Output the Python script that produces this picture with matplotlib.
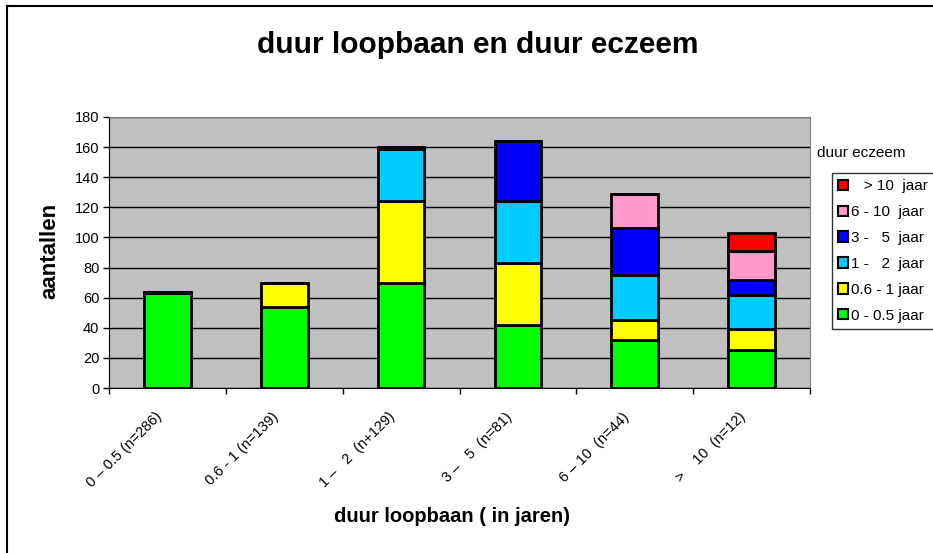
import matplotlib

matplotlib.use("Agg")
import matplotlib.pyplot as plt
import matplotlib.transforms as mtransforms
import numpy as np
from matplotlib.lines import Line2D
from matplotlib.patches import Patch

plt.rcParams["font.family"] = ["Liberation Sans", "DejaVu Sans"]

categories = [
    "0 \u2013 0.5 (n=286)",
    "0.6 - 1 (n=139)",
    "1 \u2013   2  (n+129)",
    "3 \u2013   5  (n=81)",
    "6 \u2013 10  (n=44)",
    ">    10  (n=12)",
]
series_names = ["0 - 0.5 jaar", "0.6 - 1 jaar", "1 -   2  jaar", "3 -   5  jaar", "6 - 10  jaar", "   > 10  jaar"]
green = [63, 54, 70, 42, 32, 25]
yellow = [1, 16, 54, 41, 13, 14]
cyan = [0, 0, 35, 41, 30, 23]
blue = [0, 0, 1, 40, 31, 10]
pink = [0, 0, 0, 0, 23, 19]
red = [0, 0, 0, 0, 0, 12]
colors = ["#00FF00", "#FFFF00", "#00CCFF", "#0000FF", "#FF99CC", "#FF0000"]

W, H = 933, 553
fig = plt.figure(figsize=(W / 100, H / 100), dpi=100)
ax = fig.add_axes([109 / W, 1 - 388 / H, 701 / W, 271 / H])
ax.set_facecolor("#C0C0C0")

x = np.arange(len(categories))
bottom = np.zeros(len(categories))
for vals, col in zip([green, yellow, cyan, blue, pink, red], colors):
    vals = np.array(vals, dtype=float)
    ax.bar(x, vals, width=0.4, bottom=bottom, color=col, edgecolor="black",
           linewidth=2, zorder=3)
    bottom += vals

ax.set_xlim(-0.5, len(categories) - 0.5)
ax.set_ylim(0, 180)
ax.set_yticks(range(0, 181, 20))
ax.yaxis.grid(True, color="black", linewidth=1, zorder=1)
ax.set_axisbelow(True)
ax.tick_params(axis="y", labelsize=10.5, length=4, direction="out", width=1, pad=3)

ax.set_xticks(np.arange(-0.5, len(categories), 1))
ax.set_xticklabels([])
ax.set_xticks(x, minor=True)
ax.set_xticklabels(categories, minor=True, rotation=45, ha="right",
                   rotation_mode="anchor", fontsize=10.5)
ax.tick_params(axis="x", which="major", length=4, width=1)
ax.tick_params(axis="x", which="minor", length=0, pad=12)
shift = mtransforms.ScaledTranslation(-0.13, -0.05, fig.dpi_scale_trans)
for lbl in ax.get_xticklabels(minor=True):
    lbl.set_transform(lbl.get_transform() + shift)

for side in ["top", "right"]:
    ax.spines[side].set_color("#808080")
for side in ["left", "bottom"]:
    ax.spines[side].set_color("black")

fig.text(50 / W, 1 - 251 / H, "aantallen", rotation=90, ha="center", va="center",
         fontsize=16, fontweight="bold")
fig.text(452 / W, 1 - 516 / H, "duur loopbaan ( in jaren)", ha="center", va="center",
         fontsize=14.5, fontweight="bold")
fig.text(478 / W, 1 - 45 / H, "duur loopbaan en duur eczeem", ha="center", va="center",
         fontsize=21.5, fontweight="bold")

handles = [Patch(facecolor=c, edgecolor="black", linewidth=1.5) for c in colors][::-1]
leg = fig.legend(handles, series_names[::-1], loc="upper left",
                 bbox_to_anchor=(832 / W, 1 - 173 / H), fontsize=11, frameon=True,
                 fancybox=False, edgecolor="black", handlelength=0.65,
                 handleheight=0.65, handletextpad=0.2, labelspacing=0.78,
                 borderpad=0.4, borderaxespad=0)
leg.get_frame().set_linewidth(1)
fig.text(817 / W, 1 - 153 / H, "duur eczeem", ha="left", va="center", fontsize=11)

fig.add_artist(Line2D([7 / W, 7 / W], [0, 1 - 6 / H], color="black", linewidth=1.5,
                      transform=fig.transFigure))
fig.add_artist(Line2D([7 / W, 1], [1 - 6 / H, 1 - 6 / H], color="black", linewidth=1.5,
                      transform=fig.transFigure))

fig.savefig("out.png", dpi=100)
